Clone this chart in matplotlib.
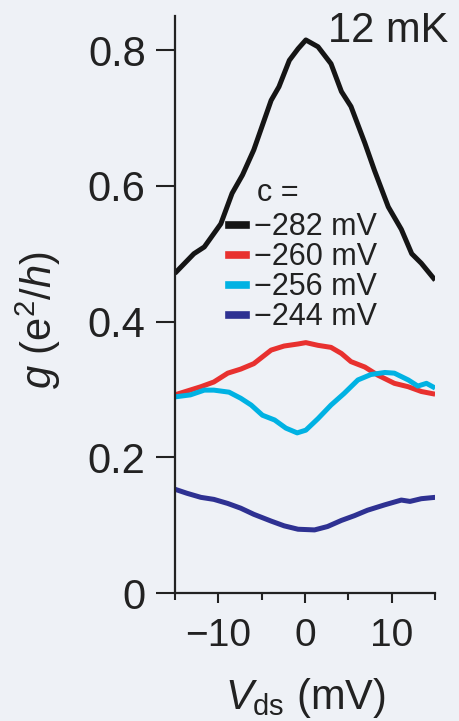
import numpy as np
import matplotlib
matplotlib.use("Agg")
import matplotlib.pyplot as plt
from matplotlib.lines import Line2D
from matplotlib.ticker import MultipleLocator

plt.rcParams['font.family'] = ['Liberation Sans', 'DejaVu Sans']
plt.rcParams['mathtext.fontset'] = 'custom'
plt.rcParams['mathtext.rm'] = 'Liberation Sans'
plt.rcParams['mathtext.it'] = 'Liberation Sans:italic'

# gate voltages (legend) and colours
gate_labels = ['\u2212282 mV', '\u2212260 mV', '\u2212256 mV', '\u2212244 mV']
colors = ['#151515', '#e8312f', '#00b2e3', '#2e3192']

# Vds (mV) / g (e^2/h)
v_282 = [-15.0, -12.8, -11.6, -9.7, -8.4, -7.2, -5.9, -3.9, -3.0, -1.8, -0.8, 0.1,
         1.5, 3.0, 4.2, 5.3, 6.9, 8.0, 9.6, 11.1, 12.3, 13.4, 15.0]
g_282 = [0.471, 0.500, 0.510, 0.544, 0.589, 0.616, 0.653, 0.726, 0.746, 0.785, 0.802, 0.815,
         0.805, 0.780, 0.739, 0.717, 0.663, 0.623, 0.569, 0.536, 0.500, 0.486, 0.461]

v_260 = [-15.0, -12.0, -10.5, -8.9, -7.4, -5.9, -3.9, -2.4, -0.8, 0.1,
         1.5, 3.0, 4.2, 5.3, 6.9, 8.4, 10.3, 11.9, 13.4, 15.0]
g_260 = [0.292, 0.304, 0.311, 0.324, 0.330, 0.338, 0.358, 0.364, 0.367, 0.369,
         0.365, 0.362, 0.353, 0.341, 0.333, 0.321, 0.309, 0.304, 0.297, 0.293]

v_256 = [-15.0, -13.2, -11.6, -10.5, -8.75, -7.4, -6.2, -4.9, -3.5, -2.2, -0.9, 0.1,
         1.5, 3.0, 4.5, 6.1, 7.6, 9.2, 10.3, 11.9, 13.0, 14.0, 15.0]
g_256 = [0.289, 0.292, 0.299, 0.299, 0.296, 0.287, 0.277, 0.262, 0.255, 0.243, 0.236, 0.240,
         0.257, 0.277, 0.294, 0.314, 0.322, 0.325, 0.324, 0.314, 0.305, 0.309, 0.302]

v_244 = [-15.0, -13.6, -12.0, -10.5, -8.9, -7.4, -5.9, -3.9, -2.4, -0.8, 1.1,
         2.6, 4.2, 5.7, 7.2, 9.2, 11.1, 12.1, 13.4, 15.0]
g_244 = [0.153, 0.147, 0.141, 0.138, 0.132, 0.125, 0.116, 0.106, 0.099, 0.094, 0.093,
         0.098, 0.107, 0.114, 0.122, 0.130, 0.137, 0.135, 0.139, 0.141]

series = [(v_282, g_282), (v_260, g_260), (v_256, g_256), (v_244, g_244)]

bg = '#eef1f6'
ink = '#222222'
fig = plt.figure(figsize=(4.6, 7.21), dpi=100, facecolor=bg)
ax = fig.add_axes([0.380, 0.1775, 0.566, 0.80])
ax.set_facecolor(bg)

for (v, g), col in zip(series, colors):
    ax.plot(v, g, color=col, lw=3.6, solid_joinstyle='round', solid_capstyle='butt')

ax.set_xlim(-15, 15)
ax.set_ylim(0, 0.85)
for s in ['top', 'right']:
    ax.spines[s].set_visible(False)
for s in ['left', 'bottom']:
    ax.spines[s].set_linewidth(1.6)
    ax.spines[s].set_color(ink)

ax.xaxis.set_minor_locator(MultipleLocator(5))
ax.set_xticks([-10, 0, 10])
ax.set_xticklabels(['\u221210', '0', '10'])
ax.set_yticks([0, 0.2, 0.4, 0.6, 0.8])
ax.set_yticklabels(['0', '0.2', '0.4', '0.6', '0.8'])
ax.tick_params(axis='x', which='major', length=7, width=1.5, pad=11, labelsize=28, colors=ink)
ax.tick_params(axis='x', which='minor', length=5, width=1.5, colors=ink)
ax.tick_params(axis='y', which='major', length=14, width=1.5, pad=7, labelsize=30, colors=ink)

ax.set_xlabel(r'$V_{\rm ds}$ (mV)', fontsize=30, labelpad=16, color=ink)
ax.set_ylabel(r'$g$ (e$^2$/$h$)', fontsize=30, color=ink)
ax.yaxis.set_label_coords(-0.43, 0.473)

ax.text(1.05, 0.975, '12 mK', transform=ax.transAxes, ha='right', va='center',
        fontsize=30, color=ink)

handles = [Line2D([], [], color=c, lw=5.5) for c in colors]
ax.text(0.315, 0.693, 'c =', transform=ax.transAxes, ha='left', va='center',
        fontsize=22, color=ink)
ax.legend(handles, gate_labels, loc='upper left', bbox_to_anchor=(0.21, 0.66),
          frameon=False, fontsize=22, handlelength=0.55, handletextpad=0.25,
          labelspacing=0.0, borderpad=0, borderaxespad=0, labelcolor=ink)

fig.savefig('out.png', dpi=100, facecolor=bg)
